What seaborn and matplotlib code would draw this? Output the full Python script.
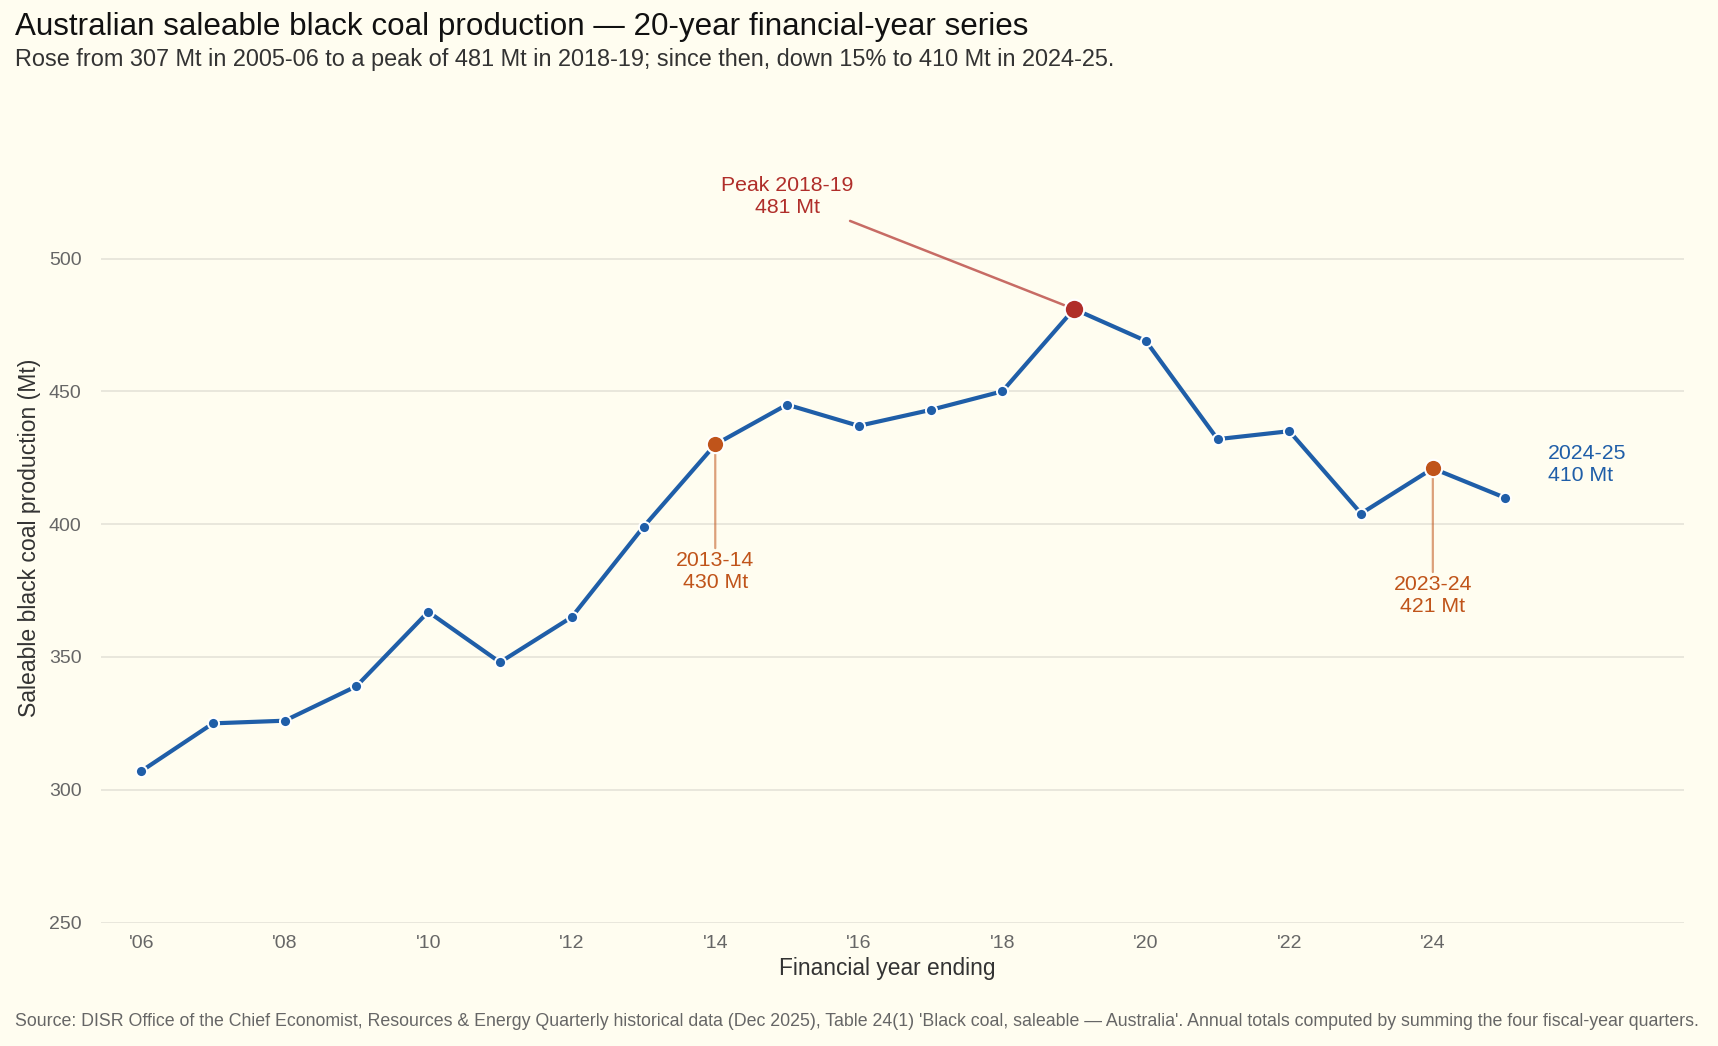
import matplotlib
matplotlib.use("Agg")
import matplotlib.pyplot as plt
import seaborn as sns
import pandas as pd

# ---- data ----
years = [2006, 2007, 2008, 2009, 2010, 2011, 2012, 2013, 2014, 2015,
         2016, 2017, 2018, 2019, 2020, 2021, 2022, 2023, 2024, 2025]
production_mt = [307, 325, 326, 339, 367, 348, 365, 399, 430, 445,
                 437, 443, 450, 481, 469, 432, 435, 404, 421, 410]
tick_years = [2006, 2008, 2010, 2012, 2014, 2016, 2018, 2020, 2022, 2024]
tick_labels = ["'06", "'08", "'10", "'12", "'14", "'16", "'18", "'20", "'22", "'24"]
y_ticks = [250, 300, 350, 400, 450, 500]

peak_year, peak_val = 2019, 481
hl_years = [2014, 2024]
hl_vals = [430, 421]
hl_labels = ["2013-14\n430 Mt", "2023-24\n421 Mt"]
last_year, last_val = 2025, 410

df = pd.DataFrame({"year": years, "mt": production_mt})

BG = "#FFFDF0"
BLUE = "#1F5EA8"
RED = "#B02E2A"
ORANGE = "#C0541A"
GRID = "#E7E5DA"

sns.set_theme(style="white")
plt.rcParams["font.family"] = ["Liberation Sans", "DejaVu Sans"]

fig = plt.figure(figsize=(17.18, 10.46), dpi=100, facecolor=BG)
ax = fig.add_axes([0.0588, 0.118, 0.9214, 0.7364])
ax.set_facecolor(BG)

sns.lineplot(data=df, x="year", y="mt", ax=ax, color=BLUE, linewidth=3.0,
             marker="o", markersize=8, markeredgecolor="white",
             markeredgewidth=1.4, zorder=3)

# highlighted points
sns.scatterplot(x=hl_years, y=hl_vals, ax=ax, color=ORANGE, s=155,
                edgecolor="white", linewidth=1.5, zorder=5)
sns.scatterplot(x=[peak_year], y=[peak_val], ax=ax, color=RED, s=195,
                edgecolor="white", linewidth=1.5, zorder=5)

ax.set_xlim(2005.44, 2027.5)
ax.set_ylim(250, 540)
ax.set_xticks(tick_years)
ax.set_xticklabels(tick_labels)
ax.set_yticks(y_ticks)
ax.grid(axis="y", color=GRID, linewidth=1.3)
ax.grid(axis="x", visible=False)
ax.set_axisbelow(True)
for s in ax.spines.values():
    s.set_visible(False)
ax.tick_params(axis="x", length=0, pad=9, labelsize=14, labelcolor="#666666")
ax.tick_params(axis="y", length=0, pad=14, labelsize=14, labelcolor="#666666")

ax.set_xlabel("Financial year ending", fontsize=16.4, color="#333333")
ax.set_ylabel("Saleable black coal production (Mt)", fontsize=16.6, color="#333333")
ax.xaxis.set_label_coords(0.4965, -0.0597)
ax.xaxis.label.set_va("center")
ax.yaxis.set_label_coords(-0.0451, 0.5)
ax.yaxis.label.set_va("center")

ANN_FS = 15.3
# peak annotation
ax.annotate("Peak 2018-19\n481 Mt", xy=(peak_year, peak_val),
            xytext=(peak_year - 4.0, peak_val + 42.5), textcoords="data",
            ha="center", va="center", fontsize=ANN_FS, color=RED, linespacing=1.2,
            arrowprops=dict(arrowstyle="-", color=RED, alpha=0.7, lw=1.8,
                            shrinkA=2, shrinkB=7), zorder=4)

# highlighted year annotations
for xv, yv, lab in zip(hl_years, hl_vals, hl_labels):
    ax.annotate(lab, xy=(xv, yv), xytext=(0, -77), textcoords="offset points",
                ha="center", va="top", fontsize=ANN_FS, color=ORANGE, linespacing=1.2,
                arrowprops=dict(arrowstyle="-", color=ORANGE, alpha=0.55, lw=1.6,
                                shrinkA=0, shrinkB=6), zorder=4)

# last point label
ax.annotate("2024-25\n410 Mt", xy=(last_year, last_val), xytext=(31, 24),
            textcoords="offset points", ha="left", va="center", fontsize=ANN_FS,
            color=BLUE, linespacing=1.2)

fig.text(0.009, 0.974, "Australian saleable black coal production \u2014 20-year financial-year series",
         ha="left", va="center", fontsize=22.6, color="#111111")
fig.text(0.009, 0.943, "Rose from 307 Mt in 2005-06 to a peak of 481 Mt in 2018-19; since then, down 15% to 410 Mt in 2024-25.",
         ha="left", va="center", fontsize=16.9, color="#333333")
fig.text(0.009, 0.023, "Source: DISR Office of the Chief Economist, Resources & Energy Quarterly historical data (Dec 2025), Table 24(1) 'Black coal, saleable \u2014 Australia'. Annual totals computed by summing the four fiscal-year quarters.",
         ha="left", va="center", fontsize=12.78, color="#666666")

fig.savefig("out.png", dpi=100, facecolor=BG)
